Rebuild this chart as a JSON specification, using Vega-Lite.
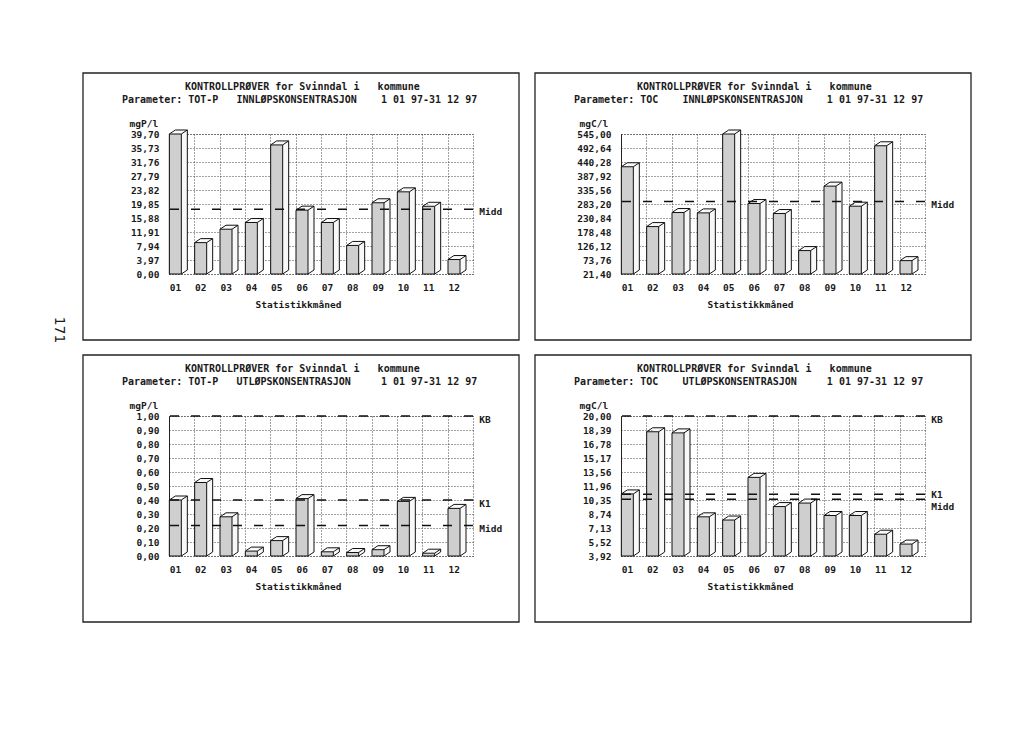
{
"$schema": "https://vega.github.io/schema/vega-lite/v6.json",
"background": "white",
"padding": {"left": 51, "top": 71, "right": 5, "bottom": 5},
"bounds": "flush",
"columns": 2,
"spacing": {"row": 142, "column": 148},
"config": {
 "view": {"stroke": "#444", "strokeDash": [1, 2], "strokeWidth": 1},
 "axis": {"labelFont": "DejaVu Sans Mono", "labelFontWeight": "bold", "labelFontSize": 9.5, "labelColor": "#1a1a1a", "titleFont": "DejaVu Sans Mono", "titleFontWeight": "bold", "titleFontSize": 9.5, "titleColor": "#1a1a1a", "grid": true, "gridColor": "#444", "gridDash": [1, 2], "gridWidth": 1, "ticks": false, "tickSize": 0, "domain": false, "tickCount": 30},
 "text": {"font": "DejaVu Sans Mono", "fontWeight": "bold", "fontSize": 10, "fill": "#1a1a1a"}
},
"datasets": {
 "tp_inn": [{"month": 1, "value": 39.7}, {"month": 2, "value": 8.9}, {"month": 3, "value": 12.7}, {"month": 4, "value": 14.6}, {"month": 5, "value": 36.6}, {"month": 6, "value": 18.1}, {"month": 7, "value": 14.6}, {"month": 8, "value": 8.1}, {"month": 9, "value": 20.2}, {"month": 10, "value": 23.3}, {"month": 11, "value": 19.2}, {"month": 12, "value": 4.1}],
 "toc_inn": [{"month": 1, "value": 422.5}, {"month": 2, "value": 198.8}, {"month": 3, "value": 251.3}, {"month": 4, "value": 250.0}, {"month": 5, "value": 545.0}, {"month": 6, "value": 285.0}, {"month": 7, "value": 247.6}, {"month": 8, "value": 109.0}, {"month": 9, "value": 350.0}, {"month": 10, "value": 275.0}, {"month": 11, "value": 501.0}, {"month": 12, "value": 71.4}],
 "tp_ut": [{"month": 1, "value": 0.40}, {"month": 2, "value": 0.525}, {"month": 3, "value": 0.28}, {"month": 4, "value": 0.035}, {"month": 5, "value": 0.11}, {"month": 6, "value": 0.41}, {"month": 7, "value": 0.03}, {"month": 8, "value": 0.025}, {"month": 9, "value": 0.045}, {"month": 10, "value": 0.39}, {"month": 11, "value": 0.02}, {"month": 12, "value": 0.34}],
 "toc_ut": [{"month": 1, "value": 11.05}, {"month": 2, "value": 18.19}, {"month": 3, "value": 18.06}, {"month": 4, "value": 8.42}, {"month": 5, "value": 8.05}, {"month": 6, "value": 12.95}, {"month": 7, "value": 9.6}, {"month": 8, "value": 10.0}, {"month": 9, "value": 8.57}, {"month": 10, "value": 8.57}, {"month": 11, "value": 6.42}, {"month": 12, "value": 5.29}]
},
"concat": [
  {"width": 304, "height": 140, "data": {"name": "tp_inn"},
   "layer": [
    {"mark": {"type": "bar", "width": 12, "xOffset": 6, "yOffset": -4, "y2Offset": -4, "fill": "#f8f8f8"},
     "encoding": {
      "x": {"field": "month", "type": "quantitative", "scale": {"domain": [0.75, 12.75], "nice": false, "zero": false, "padding": 0}, "axis": {"values": [0.75, 1.75, 2.75, 3.75, 4.75, 5.75, 6.75, 7.75, 8.75, 9.75, 10.75, 11.75], "tickCount": 30, "labelExpr": "(datum.value + 0.25 < 10 ? '0' : '') + format(datum.value + 0.25, 'd')", "labelOffset": 6, "labelPadding": 8, "labelFlush": false, "labelOverlap": false, "title": "Statistikkmåned", "titleX": 129, "titleY": 30, "titleAlign": "center", "titleBaseline": "middle"}},
      "y": {"field": "value", "type": "quantitative", "scale": {"domain": [0, 39.7], "nice": false, "zero": false, "padding": 0}, "axis": {"values": [0, 3.97, 7.94, 11.91, 15.88, 19.85, 23.82, 27.79, 31.76, 35.73, 39.7], "tickCount": 30, "labelExpr": "replace(format(datum.value, '.2f'), '.', ',')", "title": "mgP/l", "titleAngle": 0, "titleAlign": "left", "titleBaseline": "middle", "titleX": -40, "titleY": -11, "labelPadding": 10, "labelOverlap": false, "domain": true, "domainColor": "#222"}},
      "y2": {"datum": 0}}},
    {"mark": {"type": "rule", "x2Offset": 12, "yOffset": -4, "y2Offset": -4, "stroke": "#111"},
     "encoding": {"x": {"field": "month", "type": "quantitative"}, "x2": {"field": "month"}, "y": {"field": "value", "type": "quantitative"}, "y2": {"field": "value"}}},
    {"mark": {"type": "rule", "xOffset": 12, "x2Offset": 12, "yOffset": -4, "y2Offset": -4, "stroke": "#111"},
     "encoding": {"x": {"field": "month", "type": "quantitative"}, "x2": {"field": "month"}, "y": {"field": "value", "type": "quantitative"}, "y2": {"datum": 0}}},
    {"mark": {"type": "bar", "width": 12, "fill": "#cfcfcf", "stroke": "#111", "strokeWidth": 1},
     "encoding": {"x": {"field": "month", "type": "quantitative"}, "y": {"field": "value", "type": "quantitative"}, "y2": {"datum": 0}}},
    {"mark": {"type": "rule", "xOffset": -6, "y2Offset": -4, "stroke": "#111"},
     "encoding": {"x": {"field": "month", "type": "quantitative"}, "x2": {"field": "month"}, "y": {"field": "value", "type": "quantitative"}, "y2": {"field": "value"}}},
    {"mark": {"type": "rule", "xOffset": 6, "x2Offset": 12, "y2Offset": -4, "stroke": "#111"},
     "encoding": {"x": {"field": "month", "type": "quantitative"}, "x2": {"field": "month"}, "y": {"field": "value", "type": "quantitative"}, "y2": {"field": "value"}}},
    {"mark": {"type": "rule", "xOffset": 6, "x2Offset": 12, "y2Offset": -4, "stroke": "#111"},
     "encoding": {"x": {"field": "month", "type": "quantitative"}, "x2": {"field": "month"}, "y": {"datum": 0}, "y2": {"datum": 0}}},
    {"mark": {"type": "rule", "strokeDash": [9, 12], "stroke": "#111", "strokeWidth": 1.5},
     "encoding": {"y": {"aggregate": "mean", "field": "value", "type": "quantitative"}}},
    {"mark": {"type": "text", "align": "left", "baseline": "middle", "dy": 3, "fontSize": 9.5, "text": "Midd"},
     "encoding": {"x": {"datum": 13.0}, "y": {"aggregate": "mean", "field": "value", "type": "quantitative"}}},
    {"data": {"values": [{}]}, "mark": {"type": "rect", "fill": "transparent", "stroke": "#222", "strokeWidth": 1.3},
     "encoding": {"x": {"datum": -2.645}, "x2": {"datum": 14.566}, "y": {"datum": 57.0}, "y2": {"datum": -18.72}}},
    {"data": {"values": [{}]}, "mark": {"type": "text", "align": "left", "baseline": "middle", "text": "KONTROLLPRØVER for Svinndal i\u00a0\u00a0\u00a0kommune"},
     "encoding": {"x": {"datum": 1.38}, "y": {"datum": 53.03}}},
    {"data": {"values": [{}]}, "mark": {"type": "text", "align": "left", "baseline": "middle", "text": "Parameter: TOT-P\u00a0\u00a0\u00a0INNLØPSKONSENTRASJON\u00a0\u00a0\u00a0\u00a01 01 97-31 12 97"},
     "encoding": {"x": {"datum": -1.105}, "y": {"datum": 49.34}}},
    {"data": {"values": [{}]}, "mark": {"type": "text", "align": "center", "baseline": "middle", "angle": 90, "font": "DejaVu Sans", "fontWeight": "normal", "fontSize": 14, "text": "171"},
     "encoding": {"x": {"datum": -3.59}, "y": {"datum": -15.88}}}
   ]},
  {"width": 304, "height": 140, "data": {"name": "toc_inn"},
   "layer": [
    {"mark": {"type": "bar", "width": 12, "xOffset": 6, "yOffset": -4, "y2Offset": -4, "fill": "#f8f8f8"},
     "encoding": {
      "x": {"field": "month", "type": "quantitative", "scale": {"domain": [0.75, 12.75], "nice": false, "zero": false, "padding": 0}, "axis": {"values": [0.75, 1.75, 2.75, 3.75, 4.75, 5.75, 6.75, 7.75, 8.75, 9.75, 10.75, 11.75], "tickCount": 30, "labelExpr": "(datum.value + 0.25 < 10 ? '0' : '') + format(datum.value + 0.25, 'd')", "labelOffset": 6, "labelPadding": 8, "labelFlush": false, "labelOverlap": false, "title": "Statistikkmåned", "titleX": 129, "titleY": 30, "titleAlign": "center", "titleBaseline": "middle"}},
      "y": {"field": "value", "type": "quantitative", "scale": {"domain": [21.4, 545], "nice": false, "zero": false, "padding": 0}, "axis": {"values": [21.4, 73.76, 126.12, 178.48, 230.84, 283.2, 335.56, 387.92, 440.28, 492.64, 545], "tickCount": 30, "labelExpr": "replace(format(datum.value, '.2f'), '.', ',')", "title": "mgC/l", "titleAngle": 0, "titleAlign": "left", "titleBaseline": "middle", "titleX": -42, "titleY": -11, "labelPadding": 10, "labelOverlap": false, "domain": true, "domainColor": "#222"}},
      "y2": {"datum": 21.4}}},
    {"mark": {"type": "rule", "x2Offset": 12, "yOffset": -4, "y2Offset": -4, "stroke": "#111"},
     "encoding": {"x": {"field": "month", "type": "quantitative"}, "x2": {"field": "month"}, "y": {"field": "value", "type": "quantitative"}, "y2": {"field": "value"}}},
    {"mark": {"type": "rule", "xOffset": 12, "x2Offset": 12, "yOffset": -4, "y2Offset": -4, "stroke": "#111"},
     "encoding": {"x": {"field": "month", "type": "quantitative"}, "x2": {"field": "month"}, "y": {"field": "value", "type": "quantitative"}, "y2": {"datum": 21.4}}},
    {"mark": {"type": "bar", "width": 12, "fill": "#cfcfcf", "stroke": "#111", "strokeWidth": 1},
     "encoding": {"x": {"field": "month", "type": "quantitative"}, "y": {"field": "value", "type": "quantitative"}, "y2": {"datum": 21.4}}},
    {"mark": {"type": "rule", "xOffset": -6, "y2Offset": -4, "stroke": "#111"},
     "encoding": {"x": {"field": "month", "type": "quantitative"}, "x2": {"field": "month"}, "y": {"field": "value", "type": "quantitative"}, "y2": {"field": "value"}}},
    {"mark": {"type": "rule", "xOffset": 6, "x2Offset": 12, "y2Offset": -4, "stroke": "#111"},
     "encoding": {"x": {"field": "month", "type": "quantitative"}, "x2": {"field": "month"}, "y": {"field": "value", "type": "quantitative"}, "y2": {"field": "value"}}},
    {"mark": {"type": "rule", "xOffset": 6, "x2Offset": 12, "y2Offset": -4, "stroke": "#111"},
     "encoding": {"x": {"field": "month", "type": "quantitative"}, "x2": {"field": "month"}, "y": {"datum": 21.4}, "y2": {"datum": 21.4}}},
    {"mark": {"type": "rule", "strokeDash": [9, 12], "stroke": "#111", "strokeWidth": 1.5},
     "encoding": {"y": {"aggregate": "mean", "field": "value", "type": "quantitative"}}},
    {"mark": {"type": "text", "align": "left", "baseline": "middle", "dy": 3, "fontSize": 9.5, "text": "Midd"},
     "encoding": {"x": {"datum": 13.0}, "y": {"aggregate": "mean", "field": "value", "type": "quantitative"}}},
    {"data": {"values": [{}]}, "mark": {"type": "rect", "fill": "transparent", "stroke": "#222", "strokeWidth": 1.3},
     "encoding": {"x": {"datum": -2.645}, "x2": {"datum": 14.566}, "y": {"datum": 773.14}, "y2": {"datum": -225.44}}},
    {"data": {"values": [{}]}, "mark": {"type": "text", "align": "left", "baseline": "middle", "text": "KONTROLLPRØVER for Svinndal i\u00a0\u00a0\u00a0kommune"},
     "encoding": {"x": {"datum": 1.38}, "y": {"datum": 720.78}}},
    {"data": {"values": [{}]}, "mark": {"type": "text", "align": "left", "baseline": "middle", "text": "Parameter: TOC\u00a0\u00a0\u00a0\u00a0INNLØPSKONSENTRASJON\u00a0\u00a0\u00a0\u00a01 01 97-31 12 97"},
     "encoding": {"x": {"datum": -1.105}, "y": {"datum": 672.16}}}
   ]},
  {"width": 304, "height": 140, "data": {"name": "tp_ut"},
   "layer": [
    {"mark": {"type": "bar", "width": 12, "xOffset": 6, "yOffset": -4, "y2Offset": -4, "fill": "#f8f8f8"},
     "encoding": {
      "x": {"field": "month", "type": "quantitative", "scale": {"domain": [0.75, 12.75], "nice": false, "zero": false, "padding": 0}, "axis": {"values": [0.75, 1.75, 2.75, 3.75, 4.75, 5.75, 6.75, 7.75, 8.75, 9.75, 10.75, 11.75], "tickCount": 30, "labelExpr": "(datum.value + 0.25 < 10 ? '0' : '') + format(datum.value + 0.25, 'd')", "labelOffset": 6, "labelPadding": 8, "labelFlush": false, "labelOverlap": false, "title": "Statistikkmåned", "titleX": 129, "titleY": 30, "titleAlign": "center", "titleBaseline": "middle"}},
      "y": {"field": "value", "type": "quantitative", "scale": {"domain": [0, 1], "nice": false, "zero": false, "padding": 0}, "axis": {"values": [0, 0.1, 0.2, 0.3, 0.4, 0.5, 0.6, 0.7, 0.8, 0.9, 1.0], "tickCount": 30, "labelExpr": "replace(format(datum.value, '.2f'), '.', ',')", "title": "mgP/l", "titleAngle": 0, "titleAlign": "left", "titleBaseline": "middle", "titleX": -40, "titleY": -11, "labelPadding": 10, "labelOverlap": false, "domain": true, "domainColor": "#222"}},
      "y2": {"datum": 0}}},
    {"mark": {"type": "rule", "x2Offset": 12, "yOffset": -4, "y2Offset": -4, "stroke": "#111"},
     "encoding": {"x": {"field": "month", "type": "quantitative"}, "x2": {"field": "month"}, "y": {"field": "value", "type": "quantitative"}, "y2": {"field": "value"}}},
    {"mark": {"type": "rule", "xOffset": 12, "x2Offset": 12, "yOffset": -4, "y2Offset": -4, "stroke": "#111"},
     "encoding": {"x": {"field": "month", "type": "quantitative"}, "x2": {"field": "month"}, "y": {"field": "value", "type": "quantitative"}, "y2": {"datum": 0}}},
    {"mark": {"type": "bar", "width": 12, "fill": "#cfcfcf", "stroke": "#111", "strokeWidth": 1},
     "encoding": {"x": {"field": "month", "type": "quantitative"}, "y": {"field": "value", "type": "quantitative"}, "y2": {"datum": 0}}},
    {"mark": {"type": "rule", "xOffset": -6, "y2Offset": -4, "stroke": "#111"},
     "encoding": {"x": {"field": "month", "type": "quantitative"}, "x2": {"field": "month"}, "y": {"field": "value", "type": "quantitative"}, "y2": {"field": "value"}}},
    {"mark": {"type": "rule", "xOffset": 6, "x2Offset": 12, "y2Offset": -4, "stroke": "#111"},
     "encoding": {"x": {"field": "month", "type": "quantitative"}, "x2": {"field": "month"}, "y": {"field": "value", "type": "quantitative"}, "y2": {"field": "value"}}},
    {"mark": {"type": "rule", "xOffset": 6, "x2Offset": 12, "y2Offset": -4, "stroke": "#111"},
     "encoding": {"x": {"field": "month", "type": "quantitative"}, "x2": {"field": "month"}, "y": {"datum": 0}, "y2": {"datum": 0}}},
    {"mark": {"type": "rule", "strokeDash": [9, 12], "stroke": "#111", "strokeWidth": 1.5},
     "encoding": {"y": {"aggregate": "mean", "field": "value", "type": "quantitative"}}},
    {"mark": {"type": "text", "align": "left", "baseline": "middle", "dy": 3, "fontSize": 9.5, "text": "Midd"},
     "encoding": {"x": {"datum": 13.0}, "y": {"aggregate": "mean", "field": "value", "type": "quantitative"}}},
    {"data": {"values": [{}]}, "mark": {"type": "rule", "strokeDash": [9, 12], "stroke": "#111", "strokeWidth": 1.5},
     "encoding": {"y": {"datum": 1.0}}},
    {"data": {"values": [{}]}, "mark": {"type": "text", "align": "left", "baseline": "middle", "dy": 4, "fontSize": 9.5, "text": "KB"},
     "encoding": {"x": {"datum": 13.0}, "y": {"datum": 1.0}}},
    {"data": {"values": [{}]}, "mark": {"type": "rule", "strokeDash": [9, 12], "stroke": "#111", "strokeWidth": 1.5},
     "encoding": {"y": {"datum": 0.4}}},
    {"data": {"values": [{}]}, "mark": {"type": "text", "align": "left", "baseline": "middle", "dy": 4, "fontSize": 9.5, "text": "K1"},
     "encoding": {"x": {"datum": 13.0}, "y": {"datum": 0.4}}},
    {"data": {"values": [{}]}, "mark": {"type": "rect", "fill": "transparent", "stroke": "#222", "strokeWidth": 1.3},
     "encoding": {"x": {"datum": -2.645}, "x2": {"datum": 14.566}, "y": {"datum": 1.4357}, "y2": {"datum": -0.4714}}},
    {"data": {"values": [{}]}, "mark": {"type": "text", "align": "left", "baseline": "middle", "text": "KONTROLLPRØVER for Svinndal i\u00a0\u00a0\u00a0kommune"},
     "encoding": {"x": {"datum": 1.38}, "y": {"datum": 1.3357}}},
    {"data": {"values": [{}]}, "mark": {"type": "text", "align": "left", "baseline": "middle", "text": "Parameter: TOT-P\u00a0\u00a0\u00a0UTLØPSKONSENTRASJON\u00a0\u00a0\u00a0\u00a0\u00a01 01 97-31 12 97"},
     "encoding": {"x": {"datum": -1.105}, "y": {"datum": 1.2429}}}
   ]},
  {"width": 304, "height": 140, "data": {"name": "toc_ut"},
   "layer": [
    {"mark": {"type": "bar", "width": 12, "xOffset": 6, "yOffset": -4, "y2Offset": -4, "fill": "#f8f8f8"},
     "encoding": {
      "x": {"field": "month", "type": "quantitative", "scale": {"domain": [0.75, 12.75], "nice": false, "zero": false, "padding": 0}, "axis": {"values": [0.75, 1.75, 2.75, 3.75, 4.75, 5.75, 6.75, 7.75, 8.75, 9.75, 10.75, 11.75], "tickCount": 30, "labelExpr": "(datum.value + 0.25 < 10 ? '0' : '') + format(datum.value + 0.25, 'd')", "labelOffset": 6, "labelPadding": 8, "labelFlush": false, "labelOverlap": false, "title": "Statistikkmåned", "titleX": 129, "titleY": 30, "titleAlign": "center", "titleBaseline": "middle"}},
      "y": {"field": "value", "type": "quantitative", "scale": {"domain": [3.92, 20], "nice": false, "zero": false, "padding": 0}, "axis": {"values": [3.92, 5.52, 7.13, 8.74, 10.35, 11.96, 13.56, 15.17, 16.78, 18.39, 20.0], "tickCount": 30, "labelExpr": "replace(format(datum.value, '.2f'), '.', ',')", "title": "mgC/l", "titleAngle": 0, "titleAlign": "left", "titleBaseline": "middle", "titleX": -42, "titleY": -11, "labelPadding": 10, "labelOverlap": false, "domain": true, "domainColor": "#222"}},
      "y2": {"datum": 3.92}}},
    {"mark": {"type": "rule", "x2Offset": 12, "yOffset": -4, "y2Offset": -4, "stroke": "#111"},
     "encoding": {"x": {"field": "month", "type": "quantitative"}, "x2": {"field": "month"}, "y": {"field": "value", "type": "quantitative"}, "y2": {"field": "value"}}},
    {"mark": {"type": "rule", "xOffset": 12, "x2Offset": 12, "yOffset": -4, "y2Offset": -4, "stroke": "#111"},
     "encoding": {"x": {"field": "month", "type": "quantitative"}, "x2": {"field": "month"}, "y": {"field": "value", "type": "quantitative"}, "y2": {"datum": 3.92}}},
    {"mark": {"type": "bar", "width": 12, "fill": "#cfcfcf", "stroke": "#111", "strokeWidth": 1},
     "encoding": {"x": {"field": "month", "type": "quantitative"}, "y": {"field": "value", "type": "quantitative"}, "y2": {"datum": 3.92}}},
    {"mark": {"type": "rule", "xOffset": -6, "y2Offset": -4, "stroke": "#111"},
     "encoding": {"x": {"field": "month", "type": "quantitative"}, "x2": {"field": "month"}, "y": {"field": "value", "type": "quantitative"}, "y2": {"field": "value"}}},
    {"mark": {"type": "rule", "xOffset": 6, "x2Offset": 12, "y2Offset": -4, "stroke": "#111"},
     "encoding": {"x": {"field": "month", "type": "quantitative"}, "x2": {"field": "month"}, "y": {"field": "value", "type": "quantitative"}, "y2": {"field": "value"}}},
    {"mark": {"type": "rule", "xOffset": 6, "x2Offset": 12, "y2Offset": -4, "stroke": "#111"},
     "encoding": {"x": {"field": "month", "type": "quantitative"}, "x2": {"field": "month"}, "y": {"datum": 3.92}, "y2": {"datum": 3.92}}},
    {"mark": {"type": "rule", "strokeDash": [9, 12], "stroke": "#111", "strokeWidth": 1.5},
     "encoding": {"y": {"aggregate": "mean", "field": "value", "type": "quantitative"}}},
    {"mark": {"type": "text", "align": "left", "baseline": "middle", "dy": 8, "fontSize": 9.5, "text": "Midd"},
     "encoding": {"x": {"datum": 13.0}, "y": {"aggregate": "mean", "field": "value", "type": "quantitative"}}},
    {"data": {"values": [{}]}, "mark": {"type": "rule", "strokeDash": [9, 12], "stroke": "#111", "strokeWidth": 1.5},
     "encoding": {"y": {"datum": 20.0}}},
    {"data": {"values": [{}]}, "mark": {"type": "text", "align": "left", "baseline": "middle", "dy": 4, "fontSize": 9.5, "text": "KB"},
     "encoding": {"x": {"datum": 13.0}, "y": {"datum": 20.0}}},
    {"data": {"values": [{}]}, "mark": {"type": "rule", "strokeDash": [9, 12], "stroke": "#111", "strokeWidth": 1.5},
     "encoding": {"y": {"datum": 11.0}}},
    {"data": {"values": [{}]}, "mark": {"type": "text", "align": "left", "baseline": "middle", "dy": 1, "fontSize": 9.5, "text": "K1"},
     "encoding": {"x": {"datum": 13.0}, "y": {"datum": 11.0}}},
    {"data": {"values": [{}]}, "mark": {"type": "rect", "fill": "transparent", "stroke": "#222", "strokeWidth": 1.3},
     "encoding": {"x": {"datum": -2.645}, "x2": {"datum": 14.566}, "y": {"datum": 27.006}, "y2": {"datum": -3.6606}}},
    {"data": {"values": [{}]}, "mark": {"type": "text", "align": "left", "baseline": "middle", "text": "KONTROLLPRØVER for Svinndal i\u00a0\u00a0\u00a0kommune"},
     "encoding": {"x": {"datum": 1.38}, "y": {"datum": 25.398}}},
    {"data": {"values": [{}]}, "mark": {"type": "text", "align": "left", "baseline": "middle", "text": "Parameter: TOC\u00a0\u00a0\u00a0\u00a0UTLØPSKONSENTRASJON\u00a0\u00a0\u00a0\u00a0\u00a01 01 97-31 12 97"},
     "encoding": {"x": {"datum": -1.105}, "y": {"datum": 23.905}}}
   ]}
]
}
